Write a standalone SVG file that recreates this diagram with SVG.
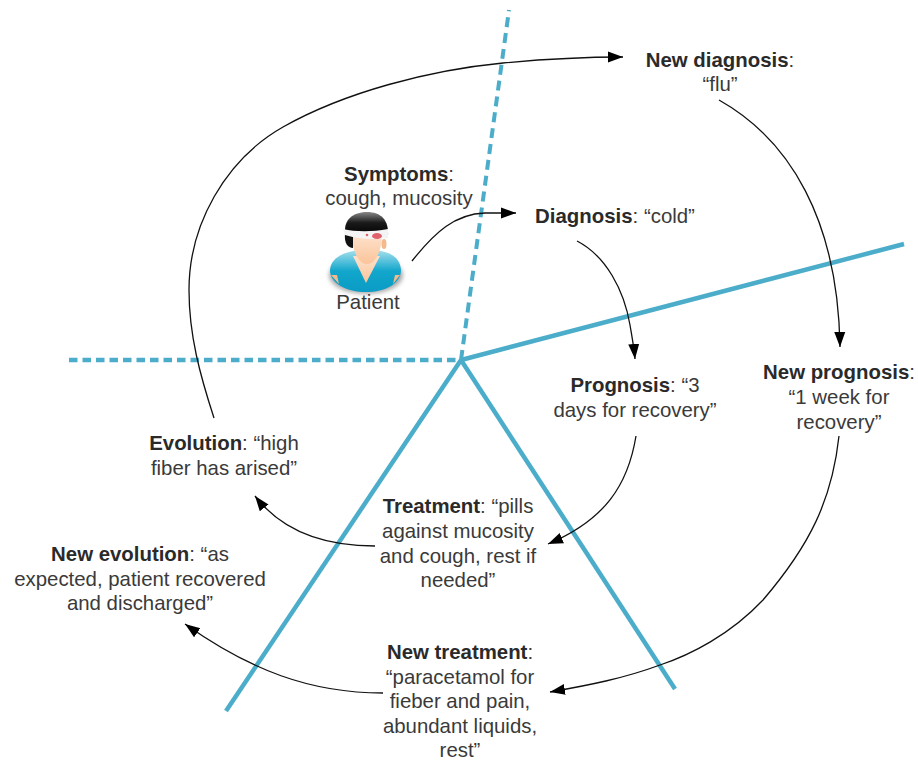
<svg xmlns="http://www.w3.org/2000/svg" width="918" height="760" viewBox="0 0 918 760">
<defs>
<marker id="arrow" markerUnits="userSpaceOnUse" markerWidth="18" markerHeight="14" refX="15" refY="7" orient="auto"><path d="M0,1.5 L15,7 L0,12.5 Z" fill="#000"/></marker>
<linearGradient id="skin" x1="0" y1="0" x2="0" y2="1"><stop offset="0" stop-color="#fde2cc"/><stop offset="1" stop-color="#fbc49a"/></linearGradient>
<linearGradient id="shirt" x1="0" y1="0" x2="0" y2="1"><stop offset="0" stop-color="#a5e0ec"/><stop offset="0.5" stop-color="#12a6cc"/><stop offset="1" stop-color="#0a9cc4"/></linearGradient>
<linearGradient id="hair" x1="0" y1="0" x2="0" y2="1"><stop offset="0" stop-color="#888"/><stop offset="0.45" stop-color="#1a1a1a"/><stop offset="1" stop-color="#000"/></linearGradient>
<filter id="soft" x="-20%" y="-20%" width="140%" height="140%"><feGaussianBlur stdDeviation="2"/></filter>
</defs>
<style>
text{font-family:"Liberation Sans",Arial,sans-serif;font-size:20.4px;fill:#3a3a3a;text-anchor:middle}
.b{font-weight:bold;fill:#2a2a2a}
.axis{fill:none;stroke:#4badc9;stroke-width:4.5}
.dh{stroke-dasharray:8.5 5}
.dv{stroke-dasharray:10 6;stroke-width:4}
.c{fill:none;stroke:#111;stroke-width:1.3;marker-end:url(#arrow)}
</style>
<rect width="918" height="760" fill="#fff"/>
<g id="axes">
<path class="axis dh" d="M69,360 H461"/>
<path class="axis dv" d="M461,360 L509,10"/>
<path class="axis" d="M461,360 L904,244"/>
<path class="axis" d="M461,360 L226,711"/>
<path class="axis" d="M461,360 L675,689"/>
</g>
<g id="connectors">
<path class="c" d="M412,261 C435,232 455,214 485,213 L516,213"/>
<path class="c" d="M577,241 C606,256 624,290 630,325 C632,337 634,347 635,359"/>
<path class="c" d="M636,436 C628,485 605,520 548,544"/>
<path class="c" d="M375,546 C330,546 285,535 255,496"/>
<path class="c" d="M214,418 C200,375 189,335 189,290 C189,225 225,160 283,127 C345,92 430,70 503,63 C545,59 590,57 623,57"/>
<path class="c" d="M719,100 C790,140 838,220 840,347"/>
<path class="c" d="M839,436 C832,500 810,545 763,600 C730,635 690,655 660,665 C625,678 590,685 550,692"/>
<path class="c" d="M383,693 C310,693 250,670 185,624"/>
</g>
<g id="patient">
<ellipse cx="366" cy="275" rx="37" ry="19" fill="#aaa" filter="url(#soft)"/>
<path d="M330,270 C331,257 345,252 358,250 L376,250 C390,252 400,257 401,270 C401,284 385,292 366,292 C347,292 330,284 330,270 Z" fill="url(#shirt)"/>
<path d="M331,275 L339,284 L337,275 Z M400,275 L393,284 L395,275 Z" fill="#f4b98c"/>
<path d="M353,256 L380,256 L366,283 Z" fill="url(#skin)"/>
<path d="M352,234 L382,234 C382,250 376,264 367,264 C358,264 352,250 352,234 Z" fill="url(#skin)"/>
<ellipse cx="384" cy="244" rx="2.5" ry="5" fill="#f4b98c"/>
<path d="M345,230 C345,218 355,212 367,212 C381,212 389,220 388,236 L345,232 Z" fill="url(#hair)"/>
<path d="M345,234 C344,243 348,248 353,248 L353,236 Z" fill="#111"/>
<path d="M343,229 C356,232 372,232 388,229 L388,238 C372,240 358,239 345,235 Z" fill="#f4f4f4"/>
<ellipse cx="377" cy="236" rx="5" ry="3" fill="#e0626b"/>
<circle cx="367" cy="235" r="1.3" fill="#e0626b"/>
</g>
<g id="symptoms"><text x="399" y="181"><tspan class="b">Symptoms</tspan>:</text><text x="399" y="205">cough, mucosity</text></g>
<g id="patient-label"><text x="368" y="309">Patient</text></g>
<g id="diagnosis"><text x="615" y="223"><tspan class="b">Diagnosis</tspan>: “cold”</text></g>
<g id="prognosis"><text x="635" y="392"><tspan class="b">Prognosis</tspan>: “3</text><text x="635" y="417">days for recovery”</text></g>
<g id="treatment"><text x="458" y="513"><tspan class="b">Treatment</tspan>: “pills</text><text x="458" y="538">against mucosity</text><text x="458" y="563">and cough, rest if</text><text x="458" y="587">needed”</text></g>
<g id="evolution"><text x="224" y="450"><tspan class="b">Evolution</tspan>: “high</text><text x="224" y="475">fiber has arised”</text></g>
<g id="new-evolution"><text x="140" y="561"><tspan class="b">New evolution</tspan>: “as</text><text x="140" y="586">expected, patient recovered</text><text x="140" y="610">and discharged”</text></g>
<g id="new-diagnosis"><text x="720" y="67"><tspan class="b">New diagnosis</tspan>:</text><text x="720" y="91">“flu”</text></g>
<g id="new-prognosis"><text x="839" y="379"><tspan class="b">New prognosis</tspan>:</text><text x="839" y="404">“1 week for</text><text x="839" y="429">recovery”</text></g>
<g id="new-treatment"><text x="460" y="659"><tspan class="b">New treatment</tspan>:</text><text x="460" y="684">“paracetamol for</text><text x="460" y="708">fieber and pain,</text><text x="460" y="733">abundant liquids,</text><text x="460" y="757">rest”</text></g>
</svg>
